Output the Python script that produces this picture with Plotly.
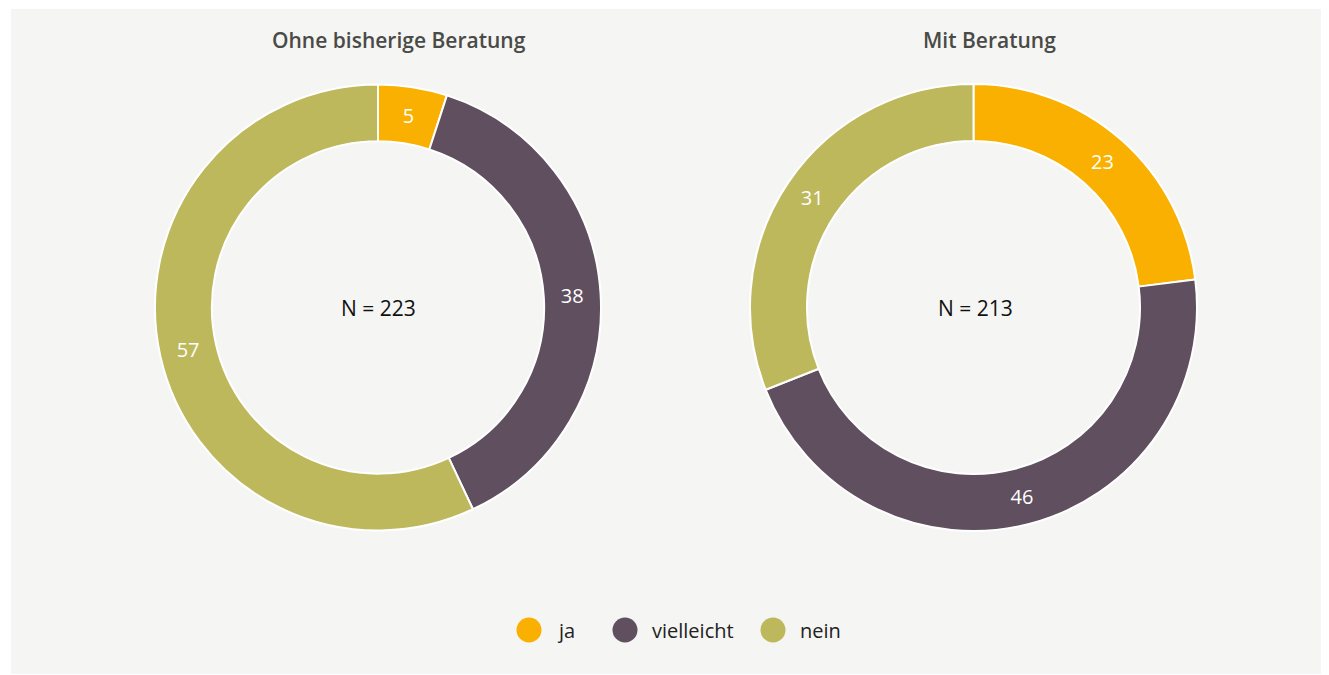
import plotly.graph_objects as go

categories = ["ja", "vielleicht", "nein"]
values_ohne = [5, 38, 57]
values_mit = [23, 46, 31]
titles = ["Ohne bisherige Beratung", "Mit Beratung"]
n_labels = ["N = 223", "N = 213"]
colors = ["#f9b000", "#5f4f5f", "#bdb85b"]

OFF = 8  # page body margin
W, H = 1329, 675 - OFF
FONT = "Open Sans"

def px_x(x):
    return (x - OFF) / W

def px_y(y):
    return 1 - (y - OFF) / H

fig = go.Figure()

pie_domains = [
    dict(x=[px_x(155), px_x(601)], y=[px_y(531), px_y(84)]),
    dict(x=[px_x(750), px_x(1197)], y=[px_y(531), px_y(84)]),
]

for vals, dom, name in zip([values_ohne, values_mit], pie_domains, titles):
    fig.add_trace(go.Pie(
        labels=categories, values=vals, name=name,
        domain=dom, hole=0.745, sort=False, direction="clockwise", rotation=0,
        marker=dict(colors=colors, line=dict(color="white", width=2)),
        textinfo="value", textposition="inside", insidetextorientation="horizontal",
        textfont=dict(color="white", size=20, family=FONT),
        showlegend=False, hoverinfo="label+value",
    ))

annotations = []
shapes = [dict(type="rect", xref="paper", yref="paper", x0=px_x(11), x1=1, y0=px_y(674), y1=px_y(9),
               fillcolor="#f5f5f3", line=dict(width=0), layer="below")]

for t, cx in zip(titles, [399, 989]):
    annotations.append(dict(text=t, x=px_x(cx), y=px_y(40), xref="paper", yref="paper",
                            showarrow=False, font=dict(size=21, color="#4a4a47", family=FONT, weight=600),
                            xanchor="center", yanchor="middle"))
for t, cx in zip(n_labels, [378, 975]):
    annotations.append(dict(text=t, x=px_x(cx), y=px_y(308), xref="paper", yref="paper",
                            showarrow=False, font=dict(size=21, color="#111111", family=FONT),
                            xanchor="center", yanchor="middle"))

# custom legend with large round markers
legend_marker_x = [529, 625, 773]
legend_text_x = [555, 650, 798]
legend_y = 630
R = 12.5
for cat, col, mx, tx in zip(categories, colors, legend_marker_x, legend_text_x):
    shapes.append(dict(type="circle", xref="paper", yref="paper",
                       xsizemode="pixel", ysizemode="pixel",
                       xanchor=px_x(mx), yanchor=px_y(legend_y),
                       x0=-R, x1=R, y0=-R, y1=R,
                       fillcolor=col, line=dict(width=0)))
    annotations.append(dict(text=cat, x=px_x(tx), y=px_y(legend_y), xref="paper", yref="paper",
                            showarrow=False, font=dict(size=20, color="#222222", family=FONT),
                            xanchor="left", yanchor="middle"))

fig.update_layout(
    width=W, height=H,
    margin=dict(l=0, r=0, t=0, b=0),
    paper_bgcolor="white",
    plot_bgcolor="rgba(0,0,0,0)",
    font=dict(family=FONT, color="#222222"),
    showlegend=False,
    shapes=shapes,
    annotations=annotations,
)

fig.write_html("out.html")
